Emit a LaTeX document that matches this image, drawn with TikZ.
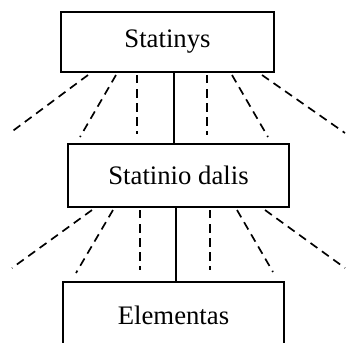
\documentclass[tikz,border=0pt]{standalone}
\usepackage{fontspec}
\setmainfont{Liberation Serif}
\tikzset{
    BX/.style ={rectangle, draw, line width=2.6pt, font=\fontsize{38}{42}\selectfont},
    SL/.style ={line width=2.6pt},
    DL/.style ={line width=2.4pt, dash pattern=on 12pt off 8pt}}

\begin{document}
\begin{tikzpicture}[x=0.05cm,y=-0.05cm]
        \useasboundingbox (0,0) rectangle (349,342);
        \clip (0,0) rectangle (349,342);
        % three levels
        \node[BX,minimum width=213*0.05cm,minimum height=60*0.05cm] (top) at (167.5,42) {Statinys};
        \node[BX,minimum width=221*0.05cm,minimum height=63*0.05cm] (mid) at (178.5,175.5) {Statinio dalis};
        \node[BX,minimum width=221*0.05cm,minimum height=66*0.05cm] (bot) at (173.5,315) {Elementas};
        \draw[SL] (top.south -| 174,0) -- (mid.north -| 174,0);
        \draw[SL] (mid.south -| 176,0) -- (bot.north -| 176,0);
        % dashed rays
        \foreach \sx/\ex/\ey [count=\i] in {88/10/133,116/80/137,137/137/134,207/207/135,232/268/137,262/345/133}{
            \coordinate (ta\i) at (\ex,\ey);
            \draw[DL] ([yshift=-3pt]top.south -| \sx,0) -- (ta\i);
        }
        \foreach \sx/\ex/\ey [count=\i] in {92/12/268,113/76/273,140/140/270,210/210/270,237/273/272,265/345/268}{
            \coordinate (ma\i) at (\ex,\ey);
            \draw[DL] ([yshift=-3pt]mid.south -| \sx,0) -- (ma\i);
        }
    \end{tikzpicture}
\end{document}
